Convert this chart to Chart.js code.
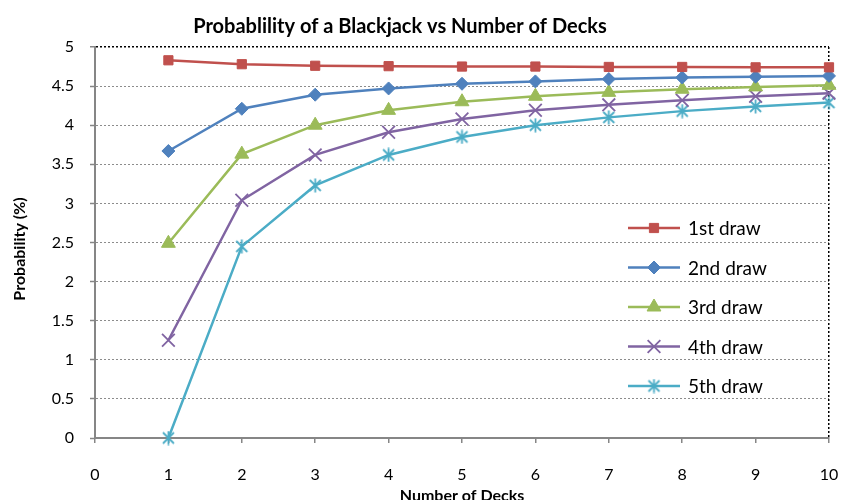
<!DOCTYPE html>
<html>
<head>
<meta charset="utf-8">
<script src="https://cdn.jsdelivr.net/npm/chart.js@4"></script>
<style>
  html, body { margin: 0; padding: 0; background: #fff; }
  #wrap { width: 842px; height: 500px; }
</style>
</head>
<body>
<div id="wrap"><canvas id="chart" width="842" height="500"></canvas></div>
<script>
// Data
const decks = [1, 2, 3, 4, 5, 6, 7, 8, 9, 10];
const seriesNames = ['1st draw', '2nd draw', '3rd draw', '4th draw', '5th draw'];
const draw1 = [4.83, 4.78, 4.76, 4.755, 4.75, 4.75, 4.745, 4.745, 4.74, 4.74];
const draw2 = [3.67, 4.21, 4.39, 4.47, 4.53, 4.56, 4.59, 4.61, 4.62, 4.63];
const draw3 = [2.49, 3.63, 4.0, 4.19, 4.30, 4.37, 4.42, 4.46, 4.49, 4.51];
const draw4 = [1.25, 3.04, 3.62, 3.91, 4.08, 4.19, 4.26, 4.32, 4.37, 4.41];
const draw5 = [0, 2.45, 3.23, 3.62, 3.85, 4.0, 4.10, 4.18, 4.24, 4.29];
const yTicks = [0, 0.5, 1, 1.5, 2, 2.5, 3, 3.5, 4, 4.5, 5];

const colors = ['#C0504D', '#4F81BD', '#9BBB59', '#8064A2', '#4BACC6'];
const allSeries = [draw1, draw2, draw3, draw4, draw5];

const FONT = 'Lato, "Open Sans", sans-serif';

// Excel style asterisk marker: an X with a vertical stroke
function makeAsterisk(color) {
    const c = document.createElement('canvas');
    c.width = 15;
    c.height = 15;
    const g = c.getContext('2d');
    g.strokeStyle = color;
    g.lineWidth = 1.8;
    g.beginPath();
    g.moveTo(2, 2); g.lineTo(13, 13);
    g.moveTo(13, 2); g.lineTo(2, 13);
    g.moveTo(7.5, 0.5); g.lineTo(7.5, 14.5);
    g.stroke();
    return c;
}

const markers = ['rect', 'rectRot', 'triangle', 'crossRot', makeAsterisk(colors[4])];
const markerSizes = [6.5, 6.5, 8, 9, 7];

const datasets = allSeries.map((vals, i) => ({
    label: seriesNames[i],
    data: vals.map((v, j) => ({ x: decks[j], y: v })),
    borderColor: colors[i],
    backgroundColor: colors[i],
    borderWidth: 2.5,
    pointStyle: markers[i],
    pointRadius: markerSizes[i],
    pointBorderWidth: (i >= 3) ? 1.8 : 1,
    pointBorderColor: colors[i],
    pointBackgroundColor: colors[i],
    clip: false,
    tension: 0
}));

// Title, axis titles and inside legend drawn by hand
const decorPlugin = {
    id: 'decor',
    afterDraw(chart) {
        const ctx = chart.ctx;
        const area = chart.chartArea;
        ctx.save();
        ctx.fillStyle = '#000';
        ctx.textAlign = 'center';
        ctx.textBaseline = 'middle';

        ctx.font = 'bold 20px ' + FONT;
        ctx.fillText('Probablility of a Blackjack vs Number of Decks', 400, 27);

        ctx.font = 'bold 16px ' + FONT;
        ctx.fillText('Number of Decks', (area.left + area.right) / 2, 496);

        ctx.save();
        ctx.translate(20, 249);
        ctx.rotate(-Math.PI / 2);
        ctx.fillText('Probability (%)', 0, 0);
        ctx.restore();

        // legend
        ctx.font = '19px ' + FONT;
        ctx.textAlign = 'left';
        chart.data.datasets.forEach((ds, i) => {
            const y = 228 + i * 39.5;
            ctx.strokeStyle = ds.borderColor;
            ctx.fillStyle = ds.backgroundColor;
            ctx.lineWidth = 2.5;
            ctx.beginPath();
            ctx.moveTo(628, y);
            ctx.lineTo(680, y);
            ctx.stroke();
            ctx.lineWidth = ds.pointBorderWidth;
            Chart.helpers.drawPoint(ctx, {
                pointStyle: ds.pointStyle,
                radius: ds.pointRadius,
                borderWidth: ds.pointBorderWidth,
                rotation: 0
            }, 654, y);
            ctx.fillStyle = '#000';
            ctx.fillText(ds.label, 688, y + 1);
        });
        ctx.restore();
    }
};

new Chart(document.getElementById('chart'), {
    type: 'line',
    data: { datasets: datasets },
    options: {
        responsive: false,
        animation: false,
        layout: { padding: { top: 47, right: 13, left: 0, bottom: 0 } },
        plugins: {
            legend: { display: false },
            title: { display: false },
            tooltip: { enabled: false }
        },
        scales: {
            x: {
                type: 'linear',
                min: 0,
                max: 10,
                afterFit: scale => {
                    scale.height = 62;
                    scale.paddingLeft = 0;
                    scale.paddingRight = 0;
                },
                ticks: {
                    stepSize: 1,
                    color: '#000',
                    padding: 22,
                    font: { family: FONT, size: 16 }
                },
                grid: {
                    color: c => (c.tick && c.tick.value === 10) ? '#000' : 'rgba(0,0,0,0)',
                    lineWidth: 1.5,
                    tickLength: 5,
                    tickColor: '#868686',
                    tickWidth: 1.5
                },
                border: { color: '#868686', width: 2, dash: [2, 2] }
            },
            y: {
                min: 0,
                max: 5,
                afterFit: scale => { scale.width = 95; },
                afterBuildTicks: scale => { scale.ticks = yTicks.map(v => ({ value: v })); },
                ticks: {
                    color: '#000',
                    padding: 16,
                    font: { family: FONT, size: 16 },
                    callback: v => String(v)
                },
                grid: {
                    color: c => (c.tick && c.tick.value === 5) ? '#000' : '#8c8c8c',
                    lineWidth: c => (c.tick && c.tick.value === 5) ? 1.5 : 1,
                    tickLength: 5,
                    tickColor: '#868686',
                    tickWidth: 1.5
                },
                border: { color: '#868686', width: 2, dash: [2, 2] }
            }
        }
    },
    plugins: [decorPlugin]
});
</script>
</body>
</html>
